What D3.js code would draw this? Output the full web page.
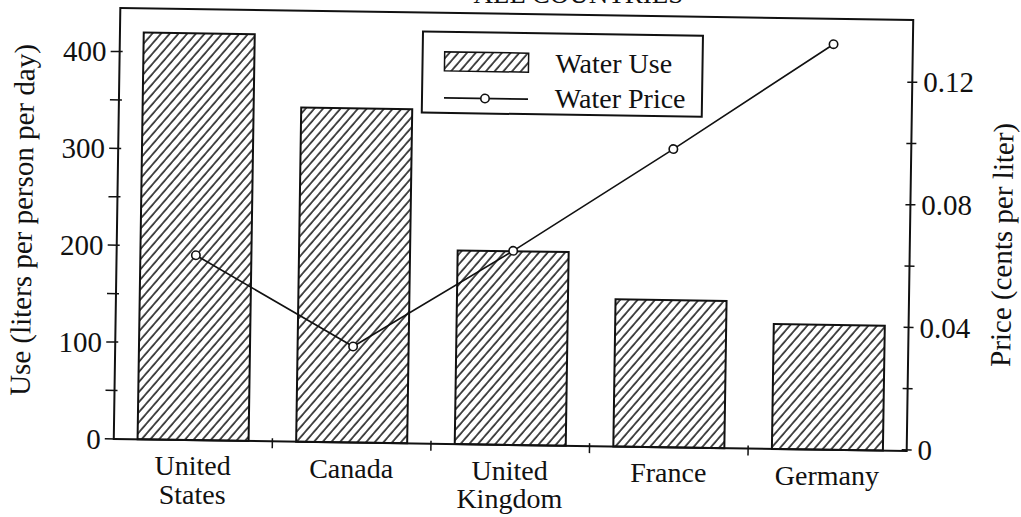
<!DOCTYPE html>
<html>
<head>
<meta charset="utf-8">
<script src="https://cdn.jsdelivr.net/npm/d3@7"></script>
<style>
  body { margin: 0; background: #fff; }
</style>
</head>
<body>
<div id="chart"></div>
<script>
const width = 1021;
const height = 517;

// data
const countries = ["United States", "Canada", "United Kingdom", "France", "Germany"];
const countryLines = [["United", "States"], ["Canada"], ["United", "Kingdom"], ["France"], ["Germany"]];
const waterUse = [420, 345, 200, 152, 129];      // liters per person per day
const waterPrice = [0.060, 0.031, 0.063, 0.097, 0.132]; // cents per liter

const useTicks = [0, 100, 200, 300, 400];
const useMinor = [50, 150, 250, 350];
const priceTicks = [0, 0.04, 0.08, 0.12];
const priceTickLabels = ["0", "0.04", "0.08", "0.12"];
const priceMinor = [0.02, 0.06, 0.10];

const frame = {left: 117, right: 910, top: 14, bottom: 445};
const serif = '"Liberation Serif"';

// the scan is tilted a little clockwise
const tilt = 0.87, cx = 517, cy = 230;
const rad = tilt * Math.PI / 180;
function tiltPt(px, py) {
  const dx = px - cx, dy = py - cy;
  return [cx + dx * Math.cos(rad) - dy * Math.sin(rad), cy + dx * Math.sin(rad) + dy * Math.cos(rad)];
}

const svg = d3.select("#chart").append("svg")
    .attr("width", width).attr("height", height);

const defs = svg.append("defs");
defs.append("pattern")
    .attr("id", "hatch")
    .attr("patternUnits", "userSpaceOnUse")
    .attr("width", 6.6).attr("height", 10)
    .attr("patternTransform", "rotate(40)")
  .append("line")
    .attr("x1", 1).attr("x2", 1).attr("y1", 0).attr("y2", 10)
    .attr("stroke", "#111").attr("stroke-width", 1.5);

const g = svg.append("g").attr("transform", `rotate(${tilt}, ${cx}, ${cy})`);
const labels = svg.append("g");

function addText(px, py, str, size, anchor, angle) {
  const [tx, ty] = tiltPt(px, py);
  const t = labels.append("text")
      .attr("x", tx).attr("y", ty)
      .attr("font-size", size)
      .attr("text-anchor", anchor || "start")
      .attr("fill", "#111")
      .style("font-family", serif)
      .text(str);
  if (angle) t.attr("transform", `rotate(${angle}, ${tx}, ${ty})`);
  return t;
}

const x = d3.scaleBand()
    .domain(countries)
    .range([frame.left, frame.right])
    .paddingInner(0.3)
    .paddingOuter(0.15);

const yUse = d3.scaleLinear().domain([0, 445]).range([frame.bottom, frame.top]);
const yPrice = d3.scaleLinear().domain([0, 0.1403]).range([frame.bottom - 1, frame.top]);

// title, mostly cut off at the top of the page
addText(575, 2, "ALL COUNTRIES", 27, "middle");

// bars
g.selectAll("rect.bar")
  .data(countries)
  .join("rect")
    .attr("class", "bar")
    .attr("x", d => x(d))
    .attr("width", x.bandwidth())
    .attr("y", (d, i) => yUse(waterUse[i]))
    .attr("height", (d, i) => yUse(0) - yUse(waterUse[i]))
    .attr("fill", "url(#hatch)")
    .attr("stroke", "#111")
    .attr("stroke-width", 2);

// frame
g.append("rect")
    .attr("x", frame.left).attr("y", frame.top)
    .attr("width", frame.right - frame.left)
    .attr("height", frame.bottom - frame.top)
    .attr("fill", "none")
    .attr("stroke", "#111")
    .attr("stroke-width", 2);

// left axis
g.selectAll("line.ytick")
  .data(useTicks.concat(useMinor))
  .join("line")
    .attr("x1", frame.left - 9).attr("x2", frame.left + 3)
    .attr("y1", d => yUse(d)).attr("y2", d => yUse(d))
    .attr("stroke", "#111").attr("stroke-width", 1.5);
useTicks.forEach(d => addText(frame.left - 13, yUse(d) + 10, d, 29, "end"));

// right axis
g.selectAll("line.ptick")
  .data(priceTicks.concat(priceMinor))
  .join("line")
    .attr("x1", frame.right - 5).attr("x2", frame.right + 5)
    .attr("y1", d => yPrice(d)).attr("y2", d => yPrice(d))
    .attr("stroke", "#111").attr("stroke-width", 1.5);
priceTicks.forEach((d, i) => addText(frame.right + 11, yPrice(d) + 10, priceTickLabels[i], 29, "start"));

// x axis: ticks between the categories
const step = x.step();
g.selectAll("line.xtick")
  .data(countries.slice(1))
  .join("line")
    .attr("x1", d => x(d) - step * x.paddingInner() / 2)
    .attr("x2", d => x(d) - step * x.paddingInner() / 2)
    .attr("y1", frame.bottom - 3).attr("y2", frame.bottom + 7)
    .attr("stroke", "#111").attr("stroke-width", 1.5);
countries.forEach((c, i) => {
  countryLines[i].forEach((s, j) => {
    addText(x(c) + x.bandwidth() / 2, frame.bottom + 35 + j * 28.5, s, 28, "middle");
  });
});

// price line
const line = d3.line()
    .x((d, i) => x(countries[i]) + x.bandwidth() / 2)
    .y(d => yPrice(d));

g.append("path")
    .datum(waterPrice)
    .attr("d", line)
    .attr("fill", "none")
    .attr("stroke", "#111")
    .attr("stroke-width", 1.6);

g.selectAll("circle.pt")
  .data(waterPrice)
  .join("circle")
    .attr("cx", (d, i) => x(countries[i]) + x.bandwidth() / 2)
    .attr("cy", d => yPrice(d))
    .attr("r", 4.2)
    .attr("fill", "#fff")
    .attr("stroke", "#111")
    .attr("stroke-width", 1.6);

// axis titles
addText(32, (frame.top + frame.bottom) / 2 - 2, "Use (liters per person per day)", 29, "middle", tilt - 90);
addText(1012, (frame.top + frame.bottom) / 2 + 8, "Price (cents per liter)", 29, "middle", tilt - 90);

// legend
const legend = g.append("g").attr("transform", "translate(420,33)");
legend.append("rect")
    .attr("width", 280).attr("height", 81)
    .attr("fill", "#fff").attr("stroke", "#111").attr("stroke-width", 2);
legend.append("rect")
    .attr("x", 22).attr("y", 20).attr("width", 84).attr("height", 19)
    .attr("fill", "url(#hatch)").attr("stroke", "#111").attr("stroke-width", 1.5);
legend.append("line")
    .attr("x1", 22).attr("x2", 106).attr("y1", 66).attr("y2", 66)
    .attr("stroke", "#111").attr("stroke-width", 1.6);
legend.append("circle")
    .attr("cx", 63).attr("cy", 66).attr("r", 4.2)
    .attr("fill", "#fff").attr("stroke", "#111").attr("stroke-width", 1.6);
addText(553, 72, "Water Use", 28, "start");
addText(553, 107, "Water Price", 28, "start");
</script>
</body>
</html>
